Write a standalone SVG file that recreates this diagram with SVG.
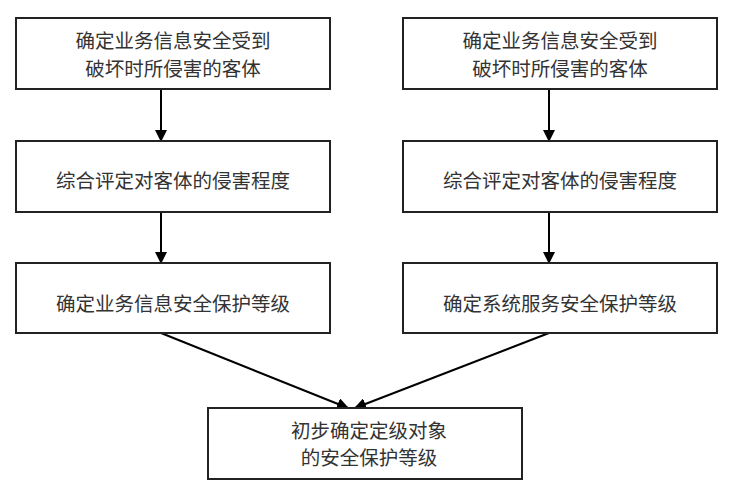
<svg xmlns="http://www.w3.org/2000/svg" width="734" height="500" viewBox="0 0 734 500">
<defs>
<marker id="ah" markerWidth="12" markerHeight="12" refX="11" refY="6" orient="auto" markerUnits="userSpaceOnUse">
<path d="M0,0 L12,6 L0,12 Z" fill="#000"/>
</marker>
<style>
.box{fill:#fff;stroke:#222;stroke-width:2}
.t{font-family:"Noto Sans CJK SC","Liberation Sans",sans-serif;font-size:19.5px;fill:#333;text-anchor:middle}
.c{stroke:#000;stroke-width:2;fill:none;marker-end:url(#ah)}
</style>
</defs>
<rect width="734" height="500" fill="#fff"/>
<g id="connectors">
<line class="c" x1="161" y1="89" x2="161" y2="141"/>
<line class="c" x1="161" y1="212" x2="161" y2="263"/>
<line class="c" x1="549" y1="89" x2="549" y2="141"/>
<line class="c" x1="549" y1="212" x2="549" y2="263"/>
<line class="c" x1="161" y1="333" x2="348" y2="408"/>
<line class="c" x1="549" y1="333" x2="355" y2="408"/>
</g>
<g id="l1"><rect class="box" x="16" y="18" width="314" height="71"/>
<text class="t" x="173" y="48">确定业务信息安全受到</text><text class="t" x="173" y="76">破坏时所侵害的客体</text></g>
<g id="l2"><rect class="box" x="16" y="141" width="314" height="71"/>
<text class="t" x="173" y="188">综合评定对客体的侵害程度</text></g>
<g id="l3"><rect class="box" x="16" y="263" width="314" height="70"/>
<text class="t" x="173" y="311">确定业务信息安全保护等级</text></g>
<g id="r1"><rect class="box" x="403" y="18" width="314" height="71"/>
<text class="t" x="560" y="48">确定业务信息安全受到</text><text class="t" x="560" y="76">破坏时所侵害的客体</text></g>
<g id="r2"><rect class="box" x="403" y="141" width="314" height="71"/>
<text class="t" x="560" y="188">综合评定对客体的侵害程度</text></g>
<g id="r3"><rect class="box" x="403" y="263" width="314" height="70"/>
<text class="t" x="560" y="311">确定系统服务安全保护等级</text></g>
<g id="bottom"><rect class="box" x="208" y="408" width="314" height="71"/>
<text class="t" x="369" y="438">初步确定定级对象</text><text class="t" x="369" y="465">的安全保护等级</text></g>
</svg>
